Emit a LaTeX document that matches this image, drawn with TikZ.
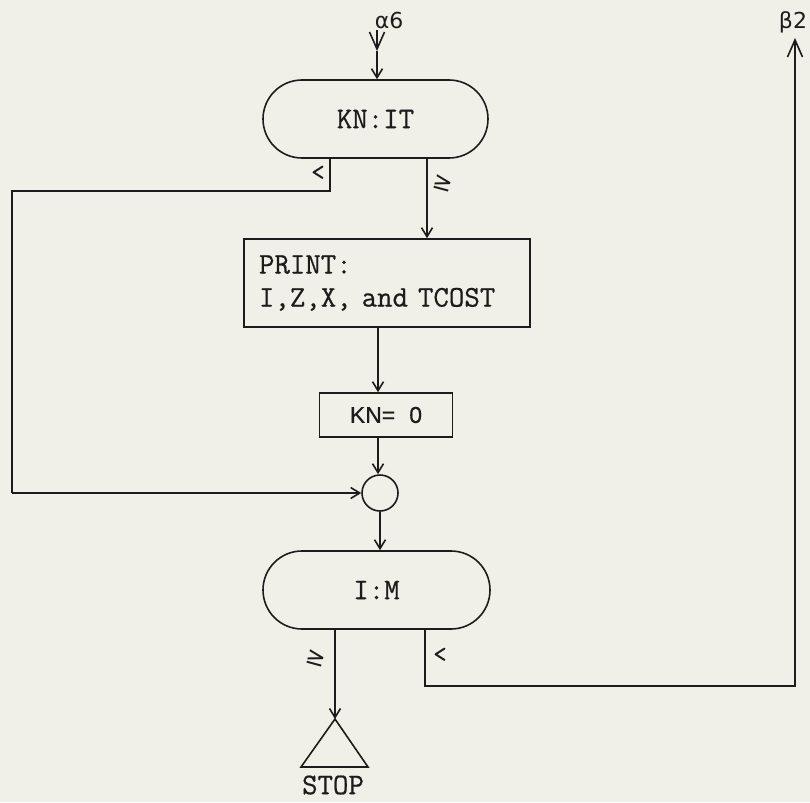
\documentclass[tikz,border=0pt]{standalone}
\usepackage{fontspec}
\setmonofont{Latin Modern Mono}[WordSpace={1,0,0},FakeBold=0.6]
\newfontfamily\symf{DejaVu Sans}
\newfontfamily\sansf{Liberation Sans}[FakeBold=0.6]
\usetikzlibrary{shapes.misc,arrows.meta}
\definecolor{bg}{RGB}{240,240,232}
\definecolor{ink}{RGB}{28,28,28}
\begin{document}
\begin{tikzpicture}[x=1pt,y=-1pt,
  every node/.style={text=ink},
  tt/.style={font=\ttfamily\fontsize{30}{33}\selectfont},
  term/.style={rounded rectangle, draw=ink, line width=1.6pt, minimum height=78pt, inner sep=0pt, tt},
  proc/.style={rectangle, draw=ink, line width=1.6pt, inner sep=0pt},
  conn/.style={draw=ink, line width=1.6pt},
  arr/.style={conn, -{Straight Barb[length=9pt,width=11pt,line width=1.6pt]}},
  bigarr/.style={conn, -{Straight Barb[length=17pt,width=15pt,line width=1.6pt]}},
  lbl/.style={font=\ttfamily\fontsize{26}{28}\selectfont, inner sep=0pt},
  greek/.style={font=\symf\fontsize{22}{24}\selectfont, inner sep=0pt},
  sym/.style={font=\symf\fontsize{24}{26}\selectfont, inner sep=0pt}
]
\fill[bg] (0,0) rectangle (810,802);
\useasboundingbox (0,0) rectangle (810,802);

% nodes
\node[term, minimum width=225pt] (kn) at (375.5,119) {KN:IT};
\node[proc, tt, minimum width=286pt, minimum height=88pt, align=left, text width=256pt] (print) at (387,283)
      {PRINT:\\I,Z,X, and TCOST};
\node[proc, minimum width=133pt, minimum height=44pt, font=\sansf\fontsize{23}{26}\selectfont]
      (kn0) at (386,415) {KN=\hspace{14pt}0};
\node[circle, draw=ink, line width=1.6pt, minimum size=36pt, inner sep=0pt] (circ) at (380,493) {};
\node[term, minimum width=227pt] (im) at (376.5,590) {I:M};

% labels
\node[greek] (a6) at (389,20) {α6};
\node[greek] (b2) at (793,22) {β2};
\node[tt, inner sep=0pt] (stoplbl) at (333,785) {STOP};
\node[lbl] (lt1) at (318,173) {<};
\node[sym, rotate=-15] (ge1) at (443,183) {≥};
\node[sym, rotate=-15] (ge2) at (316,658) {≥};
\node[lbl] (lt2) at (440,655) {<};

% coordinates
\coordinate (a6a) at (377,30);
\coordinate (a6b) at (377,51);
\coordinate (l1) at (330,191);
\coordinate (l2) at (12,191);
\coordinate (l3) at (12,493);
\coordinate (r1) at (427,200);
\coordinate (c1) at (378,0);
\coordinate (s1) at (335,700);
\coordinate (stop) at (335,719);
\coordinate (tl) at (301,767);
\coordinate (tr) at (368,767);
\coordinate (q1) at (425,686);
\coordinate (q2) at (795,686);
\coordinate (b2tip) at (795,38);

% connectors
\draw[bigarr] (a6a) -- (a6b);
\draw[arr] (a6b) -- (kn.north -| a6b);
\draw[conn] (kn.south -| l1) -- (l1) -- (l2) -- (l3);
\draw[arr] (l3) -- (circ.west);
\draw[arr] (kn.south -| r1) -- (print.north -| r1);
\draw[arr] (print.south -| c1) -- (kn0.north -| c1);
\draw[arr] (kn0.south -| c1) -- (circ.north -| c1);
\draw[arr] (circ.south) -- (circ.south |- im.north);
\draw[arr] (im.south -| s1) -- (stop);
\draw[conn, line join=miter] (stop) -- (tr) -- (tl) -- cycle;
\draw[bigarr] (im.south -| q1) -- (q1) -- (q2) -- (b2tip);
\end{tikzpicture}
\end{document}
